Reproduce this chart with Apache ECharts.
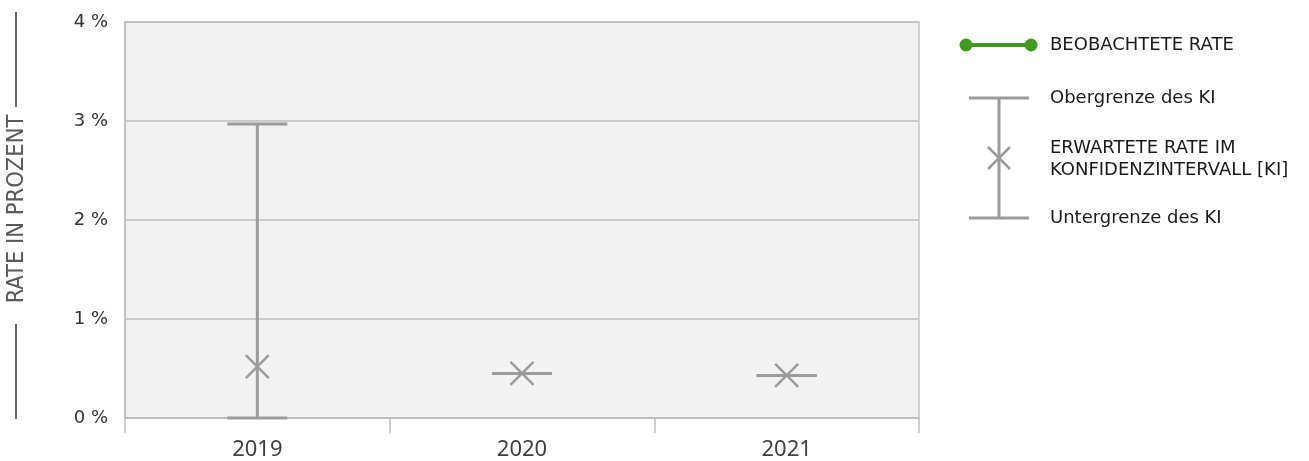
<!DOCTYPE html>
<html>
<head>
<meta charset="utf-8">
<script src="https://cdn.jsdelivr.net/npm/echarts@6/dist/echarts.min.js"></script>
<style>
html,body{margin:0;padding:0;background:#fff;}
#chart{width:1309px;height:461px;}
</style>
</head>
<body>
<div id="chart"></div>
<script>
const years = ['2019', '2020', '2021'];
const expectedRate = [0.52, 0.45, 0.43];
const lowerCI = [0.0, 0.45, 0.43];
const upperCI = [2.97, 0.45, 0.43];
const observedRate = [];
const yTicks = [0, 1, 2, 3, 4];

const GREY = '#9b9b9b';
const GREEN = '#3f9a22';

const ciData = years.map((y, i) => [i, lowerCI[i], upperCI[i], expectedRate[i]]);

function renderCI(params, api) {
  const x = api.value(0);
  const lo = api.coord([x, api.value(1)]);
  const hi = api.coord([x, api.value(2)]);
  const mid = api.coord([x, api.value(3)]);
  const half = 30, c = 11.5;
  const st = { stroke: GREY, lineWidth: 3 };
  const st2 = { stroke: GREY, lineWidth: 2.5 };
  return {
    type: 'group',
    children: [
      { type: 'line', shape: { x1: lo[0], y1: lo[1], x2: hi[0], y2: hi[1] }, style: st },
      { type: 'line', shape: { x1: hi[0] - half, y1: hi[1], x2: hi[0] + half, y2: hi[1] }, style: st },
      { type: 'line', shape: { x1: lo[0] - half, y1: lo[1], x2: lo[0] + half, y2: lo[1] }, style: st },
      { type: 'line', shape: { x1: mid[0] - c, y1: mid[1] - c, x2: mid[0] + c, y2: mid[1] + c }, style: st2 },
      { type: 'line', shape: { x1: mid[0] - c, y1: mid[1] + c, x2: mid[0] + c, y2: mid[1] - c }, style: st2 }
    ]
  };
}

const legendFont = { fontFamily: 'DejaVu Sans', fontSize: 18, fill: '#1a1a1a' };

const chart = echarts.init(document.getElementById('chart'), null, { renderer: 'canvas' });
chart.setOption({
  animation: false,
  backgroundColor: '#ffffff',
  grid: {
    left: 125, top: 22, width: 794, height: 397,
    show: true, backgroundColor: '#f2f2f2', borderColor: '#c4c4c4', borderWidth: 1.5
  },
  xAxis: {
    type: 'category',
    data: years,
    boundaryGap: true,
    axisLine: { lineStyle: { color: '#bdbdbd', width: 1.5 } },
    axisTick: { show: true, length: 15, lineStyle: { color: '#bdbdbd', width: 1.5 } },
    axisLabel: { color: '#404040', fontFamily: 'Noto Sans', fontSize: 22, margin: 21 },
    splitLine: { show: false }
  },
  yAxis: {
    type: 'value',
    min: yTicks[0], max: yTicks[yTicks.length - 1], interval: 1,
    axisLine: { show: true, lineStyle: { color: '#bdbdbd', width: 1.5 } },
    axisTick: { show: false },
    axisLabel: { color: '#333333', fontFamily: 'DejaVu Sans', fontSize: 18, margin: 17, formatter: '{value} %' },
    splitLine: { show: true, lineStyle: { color: '#bdbdbd', width: 1.5 } }
  },
  series: [
    {
      name: 'BEOBACHTETE RATE',
      type: 'line',
      data: observedRate,
      itemStyle: { color: GREEN },
      lineStyle: { color: GREEN, width: 4 }
    },
    {
      name: 'ERWARTETE RATE IM KONFIDENZINTERVALL [KI]',
      type: 'custom',
      renderItem: renderCI,
      clip: false,
      data: ciData,
      encode: { x: 0, y: [1, 2, 3] },
      z: 5
    }
  ],
  graphic: [
    { type: 'line', shape: { x1: 16, y1: 12, x2: 16, y2: 107 }, style: { stroke: '#666', lineWidth: 2 } },
    { type: 'line', shape: { x1: 16, y1: 324, x2: 16, y2: 419 }, style: { stroke: '#666', lineWidth: 2 } },
    { type: 'text', x: 17, y: 209, rotation: Math.PI / 2,
      style: { text: 'RATE IN PROZENT', fontFamily: 'DejaVu Sans Condensed', fontSize: 23.5, fill: '#595959', align: 'center', verticalAlign: 'middle' } },
    { type: 'line', shape: { x1: 966, y1: 45, x2: 1031, y2: 45 }, style: { stroke: GREEN, lineWidth: 4 } },
    { type: 'circle', shape: { cx: 966, cy: 45, r: 6.5 }, style: { fill: GREEN } },
    { type: 'circle', shape: { cx: 1031, cy: 45, r: 6.5 }, style: { fill: GREEN } },
    { type: 'text', x: 1050, y: 45, style: Object.assign({ text: 'BEOBACHTETE RATE', verticalAlign: 'middle' }, legendFont) },
    { type: 'line', shape: { x1: 969, y1: 98, x2: 1029, y2: 98 }, style: { stroke: GREY, lineWidth: 3 } },
    { type: 'line', shape: { x1: 999, y1: 98, x2: 999, y2: 218 }, style: { stroke: GREY, lineWidth: 3 } },
    { type: 'line', shape: { x1: 969, y1: 218, x2: 1029, y2: 218 }, style: { stroke: GREY, lineWidth: 3 } },
    { type: 'line', shape: { x1: 988, y1: 147, x2: 1010, y2: 169 }, style: { stroke: GREY, lineWidth: 2.5 } },
    { type: 'line', shape: { x1: 988, y1: 169, x2: 1010, y2: 147 }, style: { stroke: GREY, lineWidth: 2.5 } },
    { type: 'text', x: 1050, y: 98, style: Object.assign({ text: 'Obergrenze des KI', verticalAlign: 'middle' }, legendFont) },
    { type: 'text', x: 1050, y: 148, style: Object.assign({ text: 'ERWARTETE RATE IM', verticalAlign: 'middle' }, legendFont) },
    { type: 'text', x: 1050, y: 170, style: Object.assign({ text: 'KONFIDENZINTERVALL [KI]', verticalAlign: 'middle' }, legendFont) },
    { type: 'text', x: 1050, y: 218, style: Object.assign({ text: 'Untergrenze des KI', verticalAlign: 'middle' }, legendFont) }
  ]
});
</script>
</body>
</html>
